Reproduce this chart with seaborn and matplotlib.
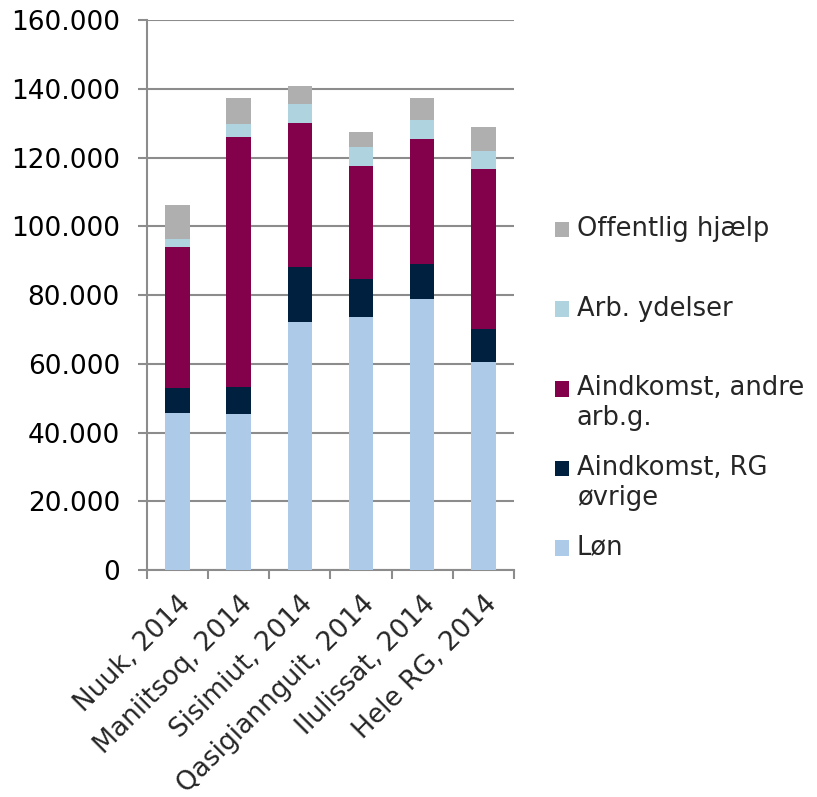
import matplotlib
matplotlib.use("Agg")
import matplotlib.pyplot as plt
import matplotlib.ticker as mticker
from matplotlib.patches import Patch, Rectangle
from matplotlib.legend_handler import HandlerPatch
import seaborn as sns
import numpy as np

# Data (kr. per person)
places = ["Nuuk, 2014", "Maniitsoq, 2014", "Sisimiut, 2014",
          "Qasigiannguit, 2014", "Ilulissat, 2014", "Hele RG, 2014"]
loen = [45700, 45400, 72200, 73700, 78700, 60500]
aind_rg = [7200, 7700, 16000, 10900, 10200, 9500]
aind_andre = [41000, 73000, 41700, 32900, 36400, 46600]
arb_ydelser = [2400, 3600, 5800, 5500, 5600, 5300]
off_hjaelp = [9800, 7700, 5200, 4300, 6300, 7100]

series_names = ["Løn", "Aindkomst, RG\nøvrige", "Aindkomst, andre\narb.g.",
                "Arb. ydelser", "Offentlig hjælp"]
series_values = [loen, aind_rg, aind_andre, arb_ydelser, off_hjaelp]
colors = ["#aecae9", "#00203f", "#83004a", "#afd4df", "#afafaf"]

FS = 19

sns.set_style("white")
plt.rcParams['font.family'] = ['DejaVu Sans']


# legend marker sits next to the first line of the label (Excel style)
class FirstLineHandler(HandlerPatch):
    def create_artists(self, legend, orig_handle, xdescent, ydescent,
                       width, height, fontsize, trans):
        r = Rectangle((-xdescent, -ydescent + 0.6 * fontsize), width, height,
                      facecolor=orig_handle.get_facecolor(), linewidth=0,
                      transform=trans)
        return [r]


fig = plt.figure(figsize=(8.17, 7.97), dpi=100)
ax = fig.add_axes([0.1799, 0.2848, 0.4492, 0.6901])

# stacked bars
bottom = np.zeros(len(places))
for vals, col in zip(series_values, colors):
    sns.barplot(x=places, y=vals, bottom=bottom, color=col, width=0.4,
                saturation=1, linewidth=0, ax=ax, zorder=3)
    bottom = bottom + np.array(vals)

grid_col = "#8c8c8c"
ax.set_ylim(0, 160000)
ax.set_xlim(-0.5, len(places) - 0.5)
ax.yaxis.set_major_locator(mticker.MultipleLocator(20000))
ax.yaxis.set_major_formatter(mticker.FuncFormatter(lambda v, p: f"{int(v):,}".replace(",", ".")))
ax.yaxis.grid(True, color=grid_col, linewidth=1.5, zorder=0)
ax.set_axisbelow(True)

for s in ["top", "right"]:
    ax.spines[s].set_visible(False)
for s in ["left", "bottom"]:
    ax.spines[s].set_color(grid_col)
    ax.spines[s].set_linewidth(1.5)

ax.tick_params(axis="y", which="major", left=True, length=6.5, width=1.5,
               color=grid_col, pad=13, labelsize=FS, labelcolor="black")
ax.set_xticks(range(len(places)))
ax.set_xticklabels(places, rotation=45, ha="right", rotation_mode="anchor")
ax.tick_params(axis="x", which="major", length=0, pad=15, labelsize=FS)
ax.set_xticks(np.arange(-0.5, len(places), 1.0), minor=True)
ax.tick_params(axis="x", which="minor", bottom=True, length=6.5, width=1.5, color=grid_col)
ax.set_xlabel("")
ax.set_ylabel("")

# every legend slot is two lines tall, like the Excel legend
handles = [Patch(color=c) for c in colors][::-1]
labels = [n if "\n" in n else n + "\n " for n in series_names[::-1]]
leg = fig.legend(handles, labels, loc="upper left", bbox_to_anchor=(0.651, 0.758),
                 frameon=False, fontsize=18.5, handlelength=0.55, handleheight=0.55,
                 handletextpad=0.3, labelspacing=0.92,
                 handler_map={Patch: FirstLineHandler()})

fig.savefig("out.png", dpi=100)
